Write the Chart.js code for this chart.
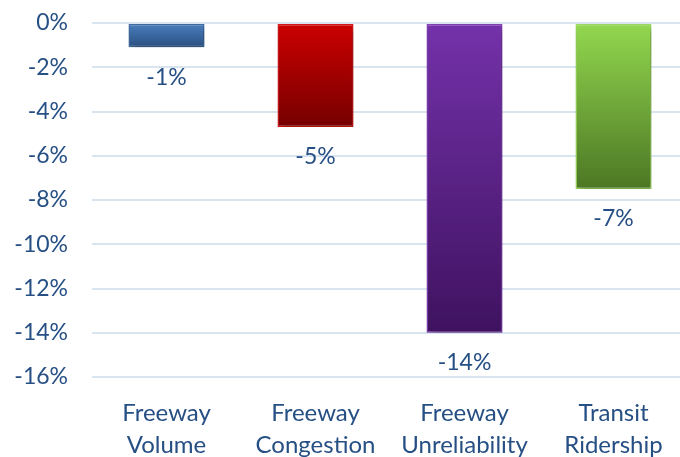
<!DOCTYPE html>
<html>
<head>
<meta charset="utf-8">
<script src="https://cdn.jsdelivr.net/npm/chart.js@4.4.1/dist/chart.umd.min.js"></script>
<style>
    html, body { margin: 0; padding: 0; background: #fff; overflow: hidden; }
    #wrap { width: 690px; height: 457px; }
</style>
</head>
<body>
<div id="wrap"><canvas id="chart"></canvas></div>
<script>
/* ================= DATA ================= */
const categories = [["Freeway", "Volume"], ["Freeway", "Congestion"], ["Freeway", "Unreliability"], ["Transit", "Ridership"]];
const changes = [-1.1, -4.7, -14.0, -7.5];   // percent change
const yTicks = { min: -16, max: 0, step: 2 };

// gradient stops per bar: [top, bottom, border]
const barColors = [
    ["#4b80c0", "#2a4f80", "#3f6fa8"],
    ["#cc0000", "#760000", "#d81818"],
    ["#7432aa", "#3f1260", "#8440b8"],
    ["#93d84f", "#4c7724", "#9cdc5c"]
];

const textColor = "#264f84";
const gridColor = "#d9e4f1";
const fontFamily = "Lato, 'Open Sans', sans-serif";

/* ================= HELPERS ================= */
function barGradient(ctx) {
    const chart = ctx.chart;
    if (!chart.chartArea) return barColors[ctx.dataIndex][0];
    const y = chart.scales.y;
    const top = y.getPixelForValue(0);
    const bottom = y.getPixelForValue(changes[ctx.dataIndex]);
    const g = chart.ctx.createLinearGradient(0, top, 0, bottom);
    g.addColorStop(0, barColors[ctx.dataIndex][0]);
    g.addColorStop(1, barColors[ctx.dataIndex][1]);
    return g;
}

// soft drop shadow under the bars
const barShadow = {
    id: "barShadow",
    beforeDatasetDraw(chart) {
        const c = chart.ctx;
        c.save();
        c.shadowColor = "rgba(0,0,0,0.35)";
        c.shadowBlur = 7;
        c.shadowOffsetX = 2;
        c.shadowOffsetY = 3;
    },
    afterDatasetDraw(chart) {
        chart.ctx.restore();
    }
};

// rounded value written under each bar end
const valueLabels = {
    id: "valueLabels",
    afterDatasetsDraw(chart) {
        const c = chart.ctx;
        const meta = chart.getDatasetMeta(0);
        c.save();
        c.font = "23px " + fontFamily;
        c.fillStyle = textColor;
        c.textAlign = "center";
        c.textBaseline = "middle";
        meta.data.forEach((bar, i) => {
            c.fillText(Math.round(changes[i]) + "%", bar.x, bar.y + 30);
        });
        c.restore();
    }
};

/* ================= CHART ================= */
new Chart(document.getElementById("chart"), {
    type: "bar",
    data: {
        labels: categories,
        datasets: [{
            data: changes,
            backgroundColor: barGradient,
            borderColor: barColors.map(b => b[2]),
            borderWidth: 1.5,
            borderSkipped: false,
            categoryPercentage: 1,
            barPercentage: 0.51
        }]
    },
    options: {
        responsive: true,
        maintainAspectRatio: false,
        animation: false,
        layout: { padding: { top: 23, right: 2, left: 0, bottom: 0 } },
        plugins: { legend: { display: false }, tooltip: { enabled: false } },
        scales: {
            y: {
                min: yTicks.min,
                max: yTicks.max,
                ticks: {
                    stepSize: yTicks.step,
                    color: textColor,
                    font: { family: fontFamily, size: 23 },
                    padding: 24,
                    callback: v => v + "%"
                },
                grid: { color: gridColor, lineWidth: 2, drawTicks: false },
                border: { display: false },
                afterFit(scale) {
                    scale.width = 92;
                    scale.paddingTop = 0;
                    scale.paddingBottom = 0;
                }
            },
            x: {
                ticks: {
                    color: textColor,
                    font: { family: fontFamily, size: 24, lineHeight: 1.33 },
                    padding: 12,
                    maxRotation: 0
                },
                grid: { display: false },
                border: { display: false },
                afterFit(scale) { scale.height = 80; }
            }
        }
    },
    plugins: [barShadow, valueLabels]
});
</script>
</body>
</html>
